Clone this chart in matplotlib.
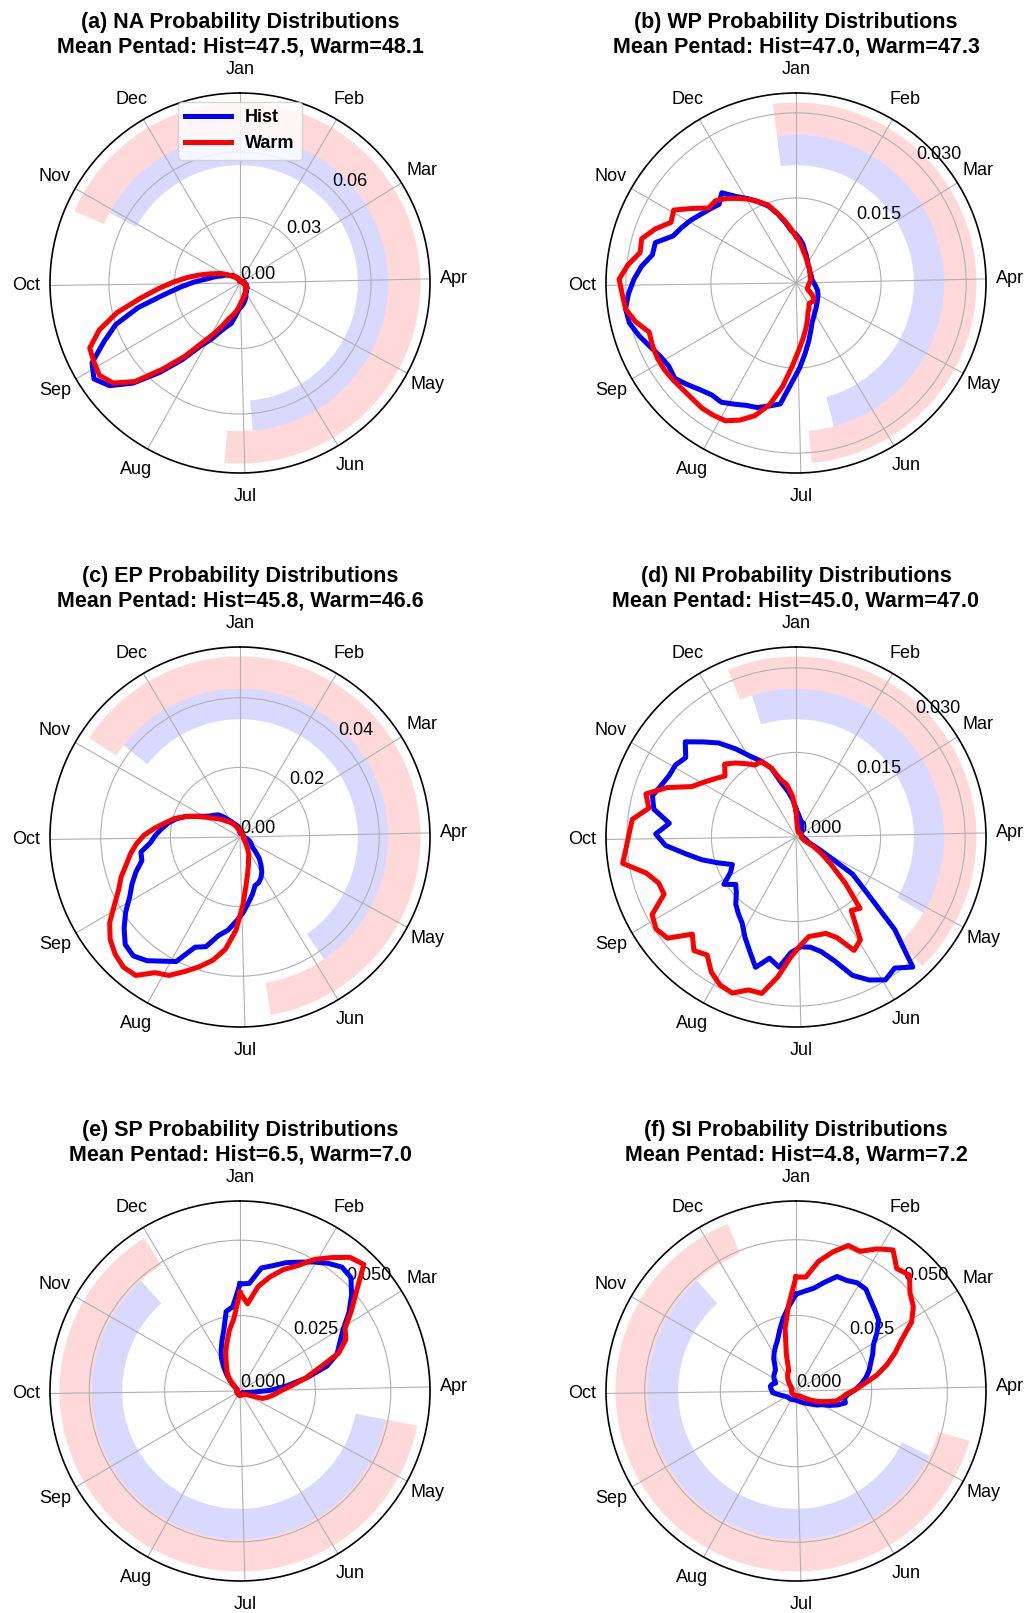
import numpy as np
import matplotlib
matplotlib.use('Agg')
import matplotlib.pyplot as plt

plt.rcParams['font.family'] = ['Liberation Sans', 'DejaVu Sans']

MONTHS = ['Jan', 'Feb', 'Mar', 'Apr', 'May', 'Jun',
          'Jul', 'Aug', 'Sep', 'Oct', 'Nov', 'Dec']
MONTH_START_DAY = [0, 31, 59, 90, 120, 151, 181, 212, 243, 273, 304, 334]

BASINS = ['NA', 'WP', 'EP', 'NI', 'SP', 'SI']
PANEL_TAGS = ['(a)', '(b)', '(c)', '(d)', '(e)', '(f)']
MEAN_HIST = [47.5, 47.0, 45.8, 45.0, 6.5, 4.8]
MEAN_WARM = [48.1, 47.3, 46.6, 47.0, 7.0, 7.2]

# probability per pentad (73 pentads, starting 1 Jan)
NA_HIST = [0.001, 0.001, 0.001, 0.001, 0.001, 0.001, 0.001, 0.001, 0.001, 0.001,
           0.001, 0.001, 0.001, 0.001, 0.002, 0.002, 0.002, 0.002, 0.002, 0.002,
           0.002, 0.003, 0.003, 0.003, 0.003, 0.004, 0.004, 0.004, 0.004, 0.005,
           0.005, 0.006, 0.007, 0.008, 0.009, 0.010, 0.011, 0.012, 0.015, 0.019,
           0.021, 0.024, 0.029, 0.034, 0.044, 0.055, 0.067, 0.076, 0.080, 0.077,
           0.068, 0.060, 0.048, 0.035, 0.027, 0.021, 0.016, 0.013, 0.011, 0.009,
           0.008, 0.007, 0.006, 0.005, 0.005, 0.004, 0.003, 0.003, 0.002, 0.002,
           0.002, 0.001, 0.001]
NA_WARM = [0.001, 0.001, 0.001, 0.001, 0.001, 0.001, 0.001, 0.001, 0.001, 0.001,
           0.001, 0.001, 0.001, 0.001, 0.001, 0.002, 0.002, 0.002, 0.002, 0.002,
           0.002, 0.002, 0.003, 0.003, 0.003, 0.003, 0.004, 0.004, 0.004, 0.004,
           0.005, 0.005, 0.006, 0.006, 0.007, 0.008, 0.009, 0.011, 0.013, 0.015,
           0.017, 0.021, 0.026, 0.032, 0.042, 0.053, 0.066, 0.074, 0.077, 0.076,
           0.075, 0.068, 0.058, 0.046, 0.037, 0.030, 0.024, 0.019, 0.015, 0.012,
           0.010, 0.008, 0.006, 0.005, 0.004, 0.004, 0.003, 0.003, 0.002, 0.002,
           0.002, 0.001, 0.001]

WP_HIST = [0.0085, 0.0078, 0.0070, 0.0060, 0.0053, 0.0047, 0.0042, 0.0038, 0.0036, 0.0034,
           0.0032, 0.0031, 0.0030, 0.0030, 0.0029, 0.0029, 0.0029, 0.0030, 0.0031, 0.0033,
           0.0035, 0.0037, 0.0040, 0.0042, 0.0044, 0.0046, 0.0048, 0.0051, 0.0054, 0.0058,
           0.0062, 0.0068, 0.0075, 0.0088, 0.0105, 0.0125, 0.0150, 0.0176, 0.0215, 0.0222,
           0.0230, 0.0233, 0.0240, 0.0248, 0.0247, 0.0253, 0.0262, 0.0272, 0.0268, 0.0272,
           0.0281, 0.0292, 0.0302, 0.0304, 0.0296, 0.0286, 0.0274, 0.0258, 0.0258, 0.0232,
           0.0224, 0.0216, 0.0207, 0.0200, 0.0194, 0.0206, 0.0185, 0.0171, 0.0157, 0.0144,
           0.0126, 0.0108, 0.0092]
WP_WARM = [0.0082, 0.0073, 0.0063, 0.0055, 0.0050, 0.0045, 0.0041, 0.0038, 0.0036, 0.0034,
           0.0032, 0.0030, 0.0029, 0.0028, 0.0027, 0.0027, 0.0026, 0.0025, 0.0024, 0.0023,
           0.0022, 0.0022, 0.0022, 0.0022, 0.0023, 0.0030, 0.0038, 0.0044, 0.0044, 0.0043,
           0.0043, 0.0050, 0.0056, 0.0068, 0.0082, 0.0098, 0.0118, 0.0146, 0.0184, 0.0220,
           0.0245, 0.0261, 0.0273, 0.0275, 0.0276, 0.0274, 0.0274, 0.0276, 0.0278, 0.0278,
           0.0276, 0.0273, 0.0291, 0.0304, 0.0307, 0.0312, 0.0298, 0.0280, 0.0283, 0.0266,
           0.0245, 0.0251, 0.0225, 0.0203, 0.0203, 0.0193, 0.0181, 0.0170, 0.0158, 0.0146,
           0.0127, 0.0110, 0.0095]

EP_HIST = [0.0015, 0.0012, 0.0010, 0.0010, 0.0010, 0.0010, 0.0010, 0.0010, 0.0010, 0.0010,
           0.0010, 0.0010, 0.0010, 0.0010, 0.0010, 0.0010, 0.0010, 0.0010, 0.0012, 0.0013,
           0.0015, 0.0020, 0.0025, 0.0030, 0.0035, 0.0040, 0.0043, 0.0060, 0.0083, 0.0100,
           0.0118, 0.0132, 0.0142, 0.0146, 0.0168, 0.0190, 0.0217, 0.0242, 0.0270, 0.0290,
           0.0330, 0.0342, 0.0402, 0.0421, 0.0445, 0.0459, 0.0452, 0.0424, 0.0393, 0.0360,
           0.0338, 0.0315, 0.0290, 0.0288, 0.0258, 0.0243, 0.0226, 0.0210, 0.0190, 0.0166,
           0.0137, 0.0116, 0.0104, 0.0096, 0.0089, 0.0075, 0.0061, 0.0051, 0.0043, 0.0038,
           0.0034, 0.0031, 0.0025]
EP_WARM = [0.0018, 0.0015, 0.0012, 0.0010, 0.0010, 0.0010, 0.0010, 0.0010, 0.0010, 0.0010,
           0.0010, 0.0010, 0.0010, 0.0010, 0.0010, 0.0010, 0.0010, 0.0010, 0.0010, 0.0010,
           0.0010, 0.0010, 0.0012, 0.0012, 0.0014, 0.0015, 0.0017, 0.0020, 0.0025, 0.0031,
           0.0042, 0.0055, 0.0065, 0.0082, 0.0104, 0.0138, 0.0195, 0.0268, 0.0325, 0.0362,
           0.0390, 0.0417, 0.0447, 0.0460, 0.0498, 0.0502, 0.0492, 0.0475, 0.0448, 0.0410,
           0.0380, 0.0360, 0.0336, 0.0318, 0.0298, 0.0275, 0.0245, 0.0217, 0.0194, 0.0165,
           0.0135, 0.0110, 0.0092, 0.0080, 0.0068, 0.0058, 0.0052, 0.0045, 0.0038, 0.0032,
           0.0027, 0.0023, 0.0021]

NI_HIST = [0.0050, 0.0042, 0.0036, 0.0032, 0.0028, 0.0025, 0.0021, 0.0018, 0.0015, 0.0013,
           0.0012, 0.0011, 0.0010, 0.0010, 0.0010, 0.0010, 0.0010, 0.0011, 0.0012, 0.0013,
           0.0015, 0.0018, 0.0021, 0.0025, 0.0050, 0.0120, 0.0160, 0.0240, 0.0310, 0.0291,
           0.0299, 0.0285, 0.0265, 0.0230, 0.0208, 0.0197, 0.0195, 0.0205, 0.0233, 0.0220,
           0.0242, 0.0218, 0.0199, 0.0180, 0.0170, 0.0160, 0.0145, 0.0136, 0.0153, 0.0132,
           0.0123, 0.0145, 0.0172, 0.0198, 0.0232, 0.0249, 0.0226, 0.0257, 0.0265, 0.0256,
           0.0250, 0.0249, 0.0241, 0.0259, 0.0236, 0.0216, 0.0190, 0.0165, 0.0148, 0.0130,
           0.0098, 0.0082, 0.0066]
NI_WARM = [0.0046, 0.0022, 0.0015, 0.0012, 0.0010, 0.0010, 0.0010, 0.0010, 0.0010, 0.0010,
           0.0010, 0.0010, 0.0010, 0.0010, 0.0010, 0.0010, 0.0010, 0.0010, 0.0010, 0.0010,
           0.0010, 0.0012, 0.0014, 0.0017, 0.0035, 0.0055, 0.0080, 0.0120, 0.0170, 0.0163,
           0.0215, 0.0226, 0.0193, 0.0179, 0.0178, 0.0178, 0.0192, 0.0213, 0.0250, 0.0284,
           0.0284, 0.0299, 0.0295, 0.0283, 0.0262, 0.0271, 0.0252, 0.0290, 0.0297, 0.0290,
           0.0255, 0.0257, 0.0273, 0.0311, 0.0302, 0.0296, 0.0292, 0.0266, 0.0277, 0.0245,
           0.0205, 0.0190, 0.0177, 0.0166, 0.0181, 0.0170, 0.0158, 0.0147, 0.0147, 0.0130,
           0.0105, 0.0094, 0.0073]

SP_HIST = [0.0355, 0.0358, 0.0414, 0.0430, 0.0452, 0.0470, 0.0492, 0.0514, 0.0532, 0.0526,
           0.0488, 0.0445, 0.0398, 0.0368, 0.0345, 0.0300, 0.0224, 0.0155, 0.0100, 0.0050,
           0.0030, 0.0020, 0.0015, 0.0012, 0.0010, 0.0010, 0.0010, 0.0010, 0.0010, 0.0010,
           0.0010, 0.0010, 0.0010, 0.0010, 0.0010, 0.0010, 0.0010, 0.0010, 0.0010, 0.0010,
           0.0010, 0.0010, 0.0010, 0.0010, 0.0010, 0.0010, 0.0010, 0.0010, 0.0010, 0.0010,
           0.0010, 0.0010, 0.0010, 0.0010, 0.0010, 0.0010, 0.0010, 0.0010, 0.0010, 0.0010,
           0.0012, 0.0015, 0.0020, 0.0030, 0.0045, 0.0068, 0.0095, 0.0125, 0.0150, 0.0177,
           0.0210, 0.0268, 0.0280]
SP_WARM = [0.0327, 0.0290, 0.0352, 0.0392, 0.0428, 0.0457, 0.0502, 0.0537, 0.0574, 0.0587,
           0.0510, 0.0455, 0.0406, 0.0390, 0.0350, 0.0271, 0.0221, 0.0174, 0.0140, 0.0121,
           0.0106, 0.0092, 0.0078, 0.0040, 0.0025, 0.0018, 0.0015, 0.0015, 0.0015, 0.0015,
           0.0015, 0.0015, 0.0015, 0.0015, 0.0015, 0.0015, 0.0015, 0.0015, 0.0015, 0.0015,
           0.0012, 0.0012, 0.0012, 0.0012, 0.0012, 0.0012, 0.0012, 0.0012, 0.0012, 0.0012,
           0.0010, 0.0010, 0.0010, 0.0010, 0.0010, 0.0010, 0.0010, 0.0010, 0.0010, 0.0010,
           0.0010, 0.0010, 0.0015, 0.0025, 0.0045, 0.0062, 0.0075, 0.0090, 0.0110, 0.0140,
           0.0168, 0.0205, 0.0240]

SI_HIST = [0.0320, 0.0331, 0.0345, 0.0372, 0.0402, 0.0402, 0.0411, 0.0408, 0.0388, 0.0373,
           0.0360, 0.0330, 0.0298, 0.0282, 0.0265, 0.0252, 0.0236, 0.0217, 0.0196, 0.0172,
           0.0162, 0.0168, 0.0145, 0.0120, 0.0095, 0.0085, 0.0072, 0.0062, 0.0055, 0.0050,
           0.0046, 0.0042, 0.0039, 0.0036, 0.0034, 0.0032, 0.0031, 0.0030, 0.0030, 0.0030,
           0.0030, 0.0031, 0.0031, 0.0032, 0.0032, 0.0033, 0.0033, 0.0034, 0.0035, 0.0038,
           0.0042, 0.0048, 0.0055, 0.0065, 0.0078, 0.0080, 0.0084, 0.0086, 0.0082, 0.0072,
           0.0078, 0.0085, 0.0090, 0.0093, 0.0097, 0.0110, 0.0130, 0.0146, 0.0162, 0.0180,
           0.0210, 0.0245, 0.0280]
SI_WARM = [0.0377, 0.0378, 0.0435, 0.0475, 0.0511, 0.0508, 0.0540, 0.0566, 0.0524, 0.0536,
           0.0497, 0.0478, 0.0445, 0.0388, 0.0350, 0.0312, 0.0272, 0.0228, 0.0196, 0.0166,
           0.0152, 0.0138, 0.0110, 0.0088, 0.0068, 0.0052, 0.0040, 0.0032, 0.0026, 0.0022,
           0.0020, 0.0018, 0.0017, 0.0016, 0.0015, 0.0015, 0.0015, 0.0015, 0.0015, 0.0015,
           0.0015, 0.0015, 0.0015, 0.0015, 0.0015, 0.0015, 0.0015, 0.0015, 0.0015, 0.0015,
           0.0015, 0.0015, 0.0015, 0.0015, 0.0015, 0.0015, 0.0015, 0.0015, 0.0015, 0.0015,
           0.0015, 0.0015, 0.0018, 0.0023, 0.0030, 0.0038, 0.0047, 0.0056, 0.0065, 0.0070,
           0.0125, 0.0210, 0.0285]

HIST = [NA_HIST, WP_HIST, EP_HIST, NI_HIST, SP_HIST, SI_HIST]
WARM = [NA_WARM, WP_WARM, EP_WARM, NI_WARM, SP_WARM, SI_WARM]

# off-season pentad spans (first, last), wrapping through the year end
HIST_BAND = [(61, 35), (72, 33), (63, 29), (70, 24), (21, 64), (24, 64)]
WARM_BAND = [(60, 37), (72, 35), (62, 34), (69, 27), (21, 66), (22, 68)]

R_MAX = [0.087, 0.0335, 0.0546, 0.0337, 0.063, 0.0628]
R_TICKS = [[0.0, 0.03, 0.06], [0.015, 0.030], [0.0, 0.02, 0.04],
           [0.0, 0.015, 0.030], [0.0, 0.025, 0.050], [0.0, 0.025, 0.050]]
R_FMT = ['%.2f', '%.3f', '%.2f', '%.3f', '%.3f', '%.3f']

NPENT = 73
theta = 2 * np.pi * np.arange(NPENT) / NPENT
width = 2 * np.pi / NPENT
month_theta = 2 * np.pi * np.array(MONTH_START_DAY) / 365.0


def span(first, last):
    if first <= last:
        return np.arange(first, last + 1)
    return np.concatenate([np.arange(first, NPENT), np.arange(0, last + 1)])


fig = plt.figure(figsize=(10.27, 16.13), dpi=100)
W, H = 1027.0, 1613.0
centers = [(240, 283), (796, 283), (240, 837), (796, 837), (240, 1391), (796, 1391)]
rad = 190

for k in range(6):
    cx, cy = centers[k]
    ax = fig.add_axes([(cx - rad) / W, 1 - (cy + rad) / H, 2 * rad / W, 2 * rad / H],
                      projection='polar')
    ax.set_theta_zero_location('N')
    ax.set_theta_direction(-1)
    rmax = R_MAX[k]

    idx = span(*HIST_BAND[k])
    ax.bar(theta[idx], 0.16 * rmax, width=width, bottom=0.62 * rmax,
           color='blue', alpha=0.15, linewidth=0)
    idx = span(*WARM_BAND[k])
    ax.bar(theta[idx], 0.17 * rmax, width=width, bottom=0.78 * rmax,
           color='red', alpha=0.15, linewidth=0)

    th = np.append(theta, 2 * np.pi)
    ax.plot(th, np.append(HIST[k], HIST[k][0]), color='blue', lw=3.6, label='Hist')
    ax.plot(th, np.append(WARM[k], WARM[k][0]), color='red', lw=3.6, label='Warm')

    ax.set_xticks(month_theta)
    ax.set_xticklabels(MONTHS, fontsize=13)
    ax.tick_params(axis='x', pad=6.5)
    ax.set_ylim(0, rmax)
    ax.set_yticks(R_TICKS[k])
    ax.set_yticklabels([R_FMT[k] % t for t in R_TICKS[k]], fontsize=13)
    ax.set_rlabel_position(45)
    ax.spines['polar'].set_linewidth(1.2)

    ax.set_title('%s %s Probability Distributions\nMean Pentad: Hist=%.1f, Warm=%.1f'
                 % (PANEL_TAGS[k], BASINS[k], MEAN_HIST[k], MEAN_WARM[k]),
                 fontsize=15.5, fontweight='bold')
    if k == 0:
        ax.legend(loc='upper center', prop={'weight': 'bold', 'size': 13},
                  handlelength=2.5)

fig.savefig('out.png', dpi=100)
